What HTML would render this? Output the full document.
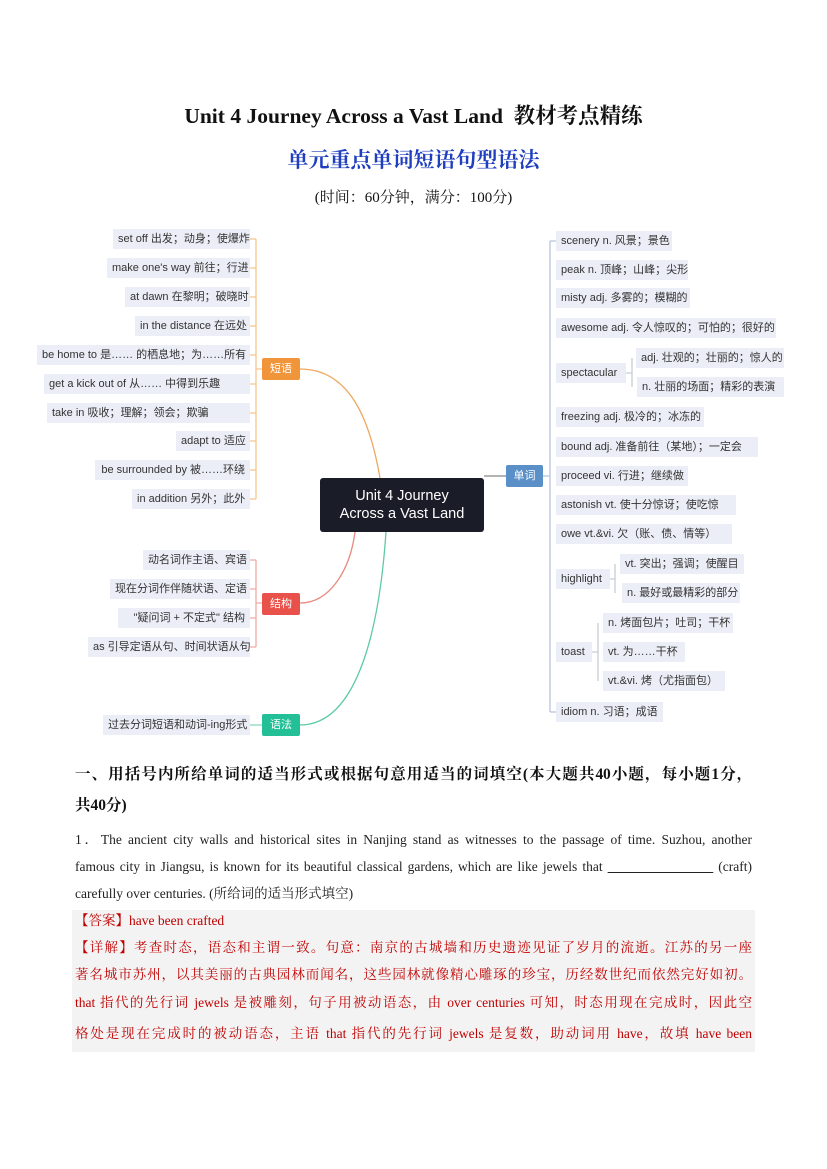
<!DOCTYPE html>
<html><head><meta charset="utf-8"><style>
body{margin:0;width:827px;height:1169px;background:#fff;position:relative;overflow:hidden;font-family:"Liberation Sans","Noto Sans CJK SC",sans-serif}
.b{position:absolute;height:20px;line-height:20px;font-size:11px;color:#333;background:#eceef7;padding:0 5px;white-space:nowrap;box-sizing:border-box}
.r{text-align:right}
.t{position:absolute;height:22px;line-height:22px;font-size:11px;color:#fff;text-align:center;border-radius:2px}
.s{font-family:"Liberation Serif","Noto Serif CJK SC",serif;position:absolute;white-space:nowrap}
.p{position:absolute;left:75px;width:677px;font-family:"Liberation Serif","Noto Serif CJK SC",serif;font-size:13.5px;color:#222;text-align:justify;text-align-last:justify;white-space:nowrap;height:27px;line-height:27px}
.red{color:#c00000}
</style></head><body>
<div class="s" style="left:0;width:827px;text-align:center;top:99px;font-size:21.5px;font-weight:bold;color:#111">Unit 4 Journey Across a Vast Land&nbsp; 教材考点精练</div>
<div class="s" style="left:0;width:827px;text-align:center;top:144px;font-size:21px;font-weight:bold;color:#1f3fbf">单元重点单词短语句型语法</div>
<div class="s" style="left:0;width:827px;text-align:center;top:186px;font-size:15px;color:#111">(时间：60分钟，满分：100分)</div>

<svg style="position:absolute;left:0;top:0" width="827" height="760">
<g fill="none" stroke-width="1.3">
<path d="M300 369 C350 369 370 420 380 478" stroke="#f0a860"/>
<path d="M262 369 H256 M256 239 V499 M250 239 H256 M250 268 H256 M250 297 H256 M250 326 H256 M250 355 H256 M250 384 H256 M250 413 H256 M250 441 H256 M250 470 H256 M250 499 H256" stroke="#f5c590"/>
<path d="M300 603 C330 603 350 570 355 532" stroke="#e88a80"/>
<path d="M262 603 H256 M256 560 V647 M250 560 H256 M250 589 H256 M250 618 H256 M250 647 H256" stroke="#efaaa4"/>
<path d="M300 725 C360 725 380 620 386 532" stroke="#5cc9a8"/>
<path d="M250 725 H262" stroke="#8cd8c0"/>
<path d="M484 476 H506" stroke="#888"/>
<path d="M543 476 H550 M550 241 V712 M550 241 H556 M550 712 H556" stroke="#b8c4dc"/>
<path d="M626 373 H632 M632 358 V387" stroke="#c8ccd8"/>
<path d="M610 579 H615 M615 564 V593" stroke="#c8ccd8"/>
<path d="M592 652 H598 M598 623 V681" stroke="#c8ccd8"/>
</g></svg>

<div class="b r" style="left:113px;top:229px;width:137px">set off 出发；动身；使爆炸</div>
<div class="b r" style="left:107px;top:258px;width:143px">make one's way 前往；行进</div>
<div class="b r" style="left:125px;top:287px;width:125px">at dawn 在黎明；破晓时</div>
<div class="b r" style="left:135px;top:316px;width:115px">in the distance 在远处</div>
<div class="b r" style="left:37px;top:345px;width:213px">be home to 是…… 的栖息地；为……所有</div>
<div class="b" style="left:44px;top:374px;width:206px">get a kick out of 从…… 中得到乐趣</div>
<div class="b" style="left:47px;top:403px;width:203px">take in 吸收；理解；领会；欺骗</div>
<div class="b r" style="left:176px;top:431px;width:74px">adapt to 适应</div>
<div class="b r" style="left:95px;top:460px;width:155px">be surrounded by 被……环绕</div>
<div class="b r" style="left:132px;top:489px;width:118px">in addition 另外；此外</div>
<div class="t" style="left:262px;top:358px;width:38px;background:#f0953a">短语</div>

<div style="position:absolute;left:320px;top:478px;width:164px;height:54px;background:#1a1c28;border-radius:3px;color:#fff;font-size:14.5px;line-height:18px;text-align:center;padding-top:9px;box-sizing:border-box">Unit 4 Journey<br>Across a Vast Land</div>

<div class="b r" style="left:143px;top:550px;width:107px">动名词作主语、宾语</div>
<div class="b r" style="left:110px;top:579px;width:140px">现在分词作伴随状语、定语</div>
<div class="b r" style="left:118px;top:608px;width:132px">"疑问词 + 不定式" 结构</div>
<div class="b r" style="left:88px;top:637px;width:162px">as 引导定语从句、时间状语从句</div>
<div class="t" style="left:262px;top:593px;width:38px;background:#e8524a">结构</div>

<div class="b r" style="left:103px;top:715px;width:147px">过去分词短语和动词-ing形式</div>
<div class="t" style="left:262px;top:714px;width:38px;background:#23bf96">语法</div>

<div class="t" style="left:506px;top:465px;width:37px;background:#5b8fc8">单词</div>
<div class="b" style="left:556px;top:231px;width:116px">scenery n. 风景；景色</div>
<div class="b" style="left:556px;top:260px;width:132px">peak n. 顶峰；山峰；尖形</div>
<div class="b" style="left:556px;top:288px;width:134px">misty adj. 多雾的；模糊的</div>
<div class="b" style="left:556px;top:318px;width:220px">awesome adj. 令人惊叹的；可怕的；很好的</div>
<div class="b" style="left:556px;top:363px;width:70px">spectacular</div>
<div class="b" style="left:636px;top:348px;width:148px">adj. 壮观的；壮丽的；惊人的</div>
<div class="b" style="left:637px;top:377px;width:147px">n. 壮丽的场面；精彩的表演</div>
<div class="b" style="left:556px;top:407px;width:148px">freezing adj. 极冷的；冰冻的</div>
<div class="b" style="left:556px;top:437px;width:202px">bound adj. 准备前往（某地）；一定会</div>
<div class="b" style="left:556px;top:466px;width:132px">proceed vi. 行进；继续做</div>
<div class="b" style="left:556px;top:495px;width:180px">astonish vt. 使十分惊讶；使吃惊</div>
<div class="b" style="left:556px;top:524px;width:176px">owe vt.&amp;vi. 欠（账、债、情等）</div>
<div class="b" style="left:556px;top:569px;width:54px">highlight</div>
<div class="b" style="left:620px;top:554px;width:124px">vt. 突出；强调；使醒目</div>
<div class="b" style="left:622px;top:583px;width:118px">n. 最好或最精彩的部分</div>
<div class="b" style="left:556px;top:642px;width:36px">toast</div>
<div class="b" style="left:603px;top:613px;width:130px">n. 烤面包片；吐司；干杯</div>
<div class="b" style="left:603px;top:642px;width:82px">vt. 为……干杯</div>
<div class="b" style="left:603px;top:671px;width:122px">vt.&amp;vi. 烤（尤指面包）</div>
<div class="b" style="left:556px;top:702px;width:107px">idiom n. 习语；成语</div>

<div class="s" style="left:75px;top:759px;width:677px;font-size:15.5px;font-weight:bold;color:#111;line-height:31px;white-space:nowrap;letter-spacing:-0.3px;text-align:justify;text-align-last:justify">一、用括号内所给单词的适当形式或根据句意用适当的词填空(本大题共40小题，每小题1分，</div>
<div class="s" style="left:75px;top:790px;font-size:15.5px;font-weight:bold;color:#111;line-height:31px">共40分)</div>
<div class="p" style="top:826px">1．The ancient city walls and historical sites in Nanjing stand as witnesses to the passage of time. Suzhou, another</div>
<div class="p" style="top:853px">famous city in Jiangsu, is known for its beautiful classical gardens, which are like jewels that <u>&nbsp;&nbsp;&nbsp;&nbsp;&nbsp;&nbsp;&nbsp;&nbsp;&nbsp;&nbsp;&nbsp;&nbsp;&nbsp;&nbsp;&nbsp;&nbsp;&nbsp;&nbsp;&nbsp;&nbsp;&nbsp;</u> (craft)</div>
<div class="p" style="top:880px;text-align-last:left">carefully over centuries. (所给词的适当形式填空)</div>
<div style="position:absolute;left:72px;top:910px;width:683px;height:142px;background:#f3f3f3"></div>
<div class="p red" style="top:907px;text-align-last:left">【答案】have been crafted</div>
<div class="p red" style="top:934px">【详解】考查时态，语态和主谓一致。句意：南京的古城墙和历史遗迹见证了岁月的流逝。江苏的另一座</div>
<div class="p red" style="top:961px">著名城市苏州，以其美丽的古典园林而闻名，这些园林就像精心雕琢的珍宝，历经数世纪而依然完好如初。</div>
<div class="p red" style="top:989px">that 指代的先行词 jewels 是被雕刻，句子用被动语态，由 over centuries 可知，时态用现在完成时，因此空</div>
<div class="p red" style="top:1020px">格处是现在完成时的被动语态，主语 that 指代的先行词 jewels 是复数，助动词用 have，故填 have been</div>
</body></html>
